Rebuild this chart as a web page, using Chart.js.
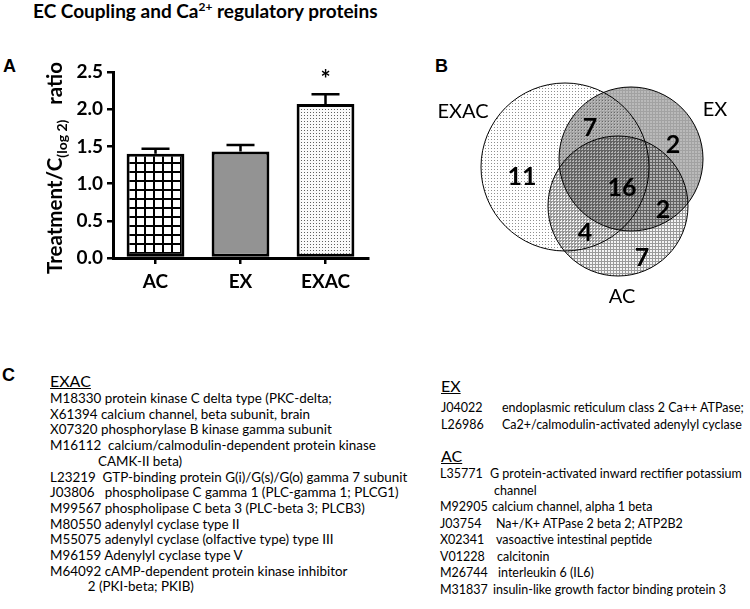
<!DOCTYPE html>
<html>
<head>
<meta charset="utf-8">
<script src="https://cdn.jsdelivr.net/npm/chart.js@4.4.0/dist/chart.umd.min.js"></script>
<style>
  body { margin: 0; background: #fff; }
  #page { position: relative; width: 750px; height: 609px; overflow: hidden; background: #fff; color: #000; font-family: Lato, 'Open Sans', sans-serif; }
  .abs { position: absolute; white-space: pre; }
  .panel { font-family: 'Liberation Sans', Arial, sans-serif; font-weight: bold; font-size: 18px; line-height: 18px; }
  #title { left: 33px; top: 0; font-weight: bold; font-size: 19px; line-height: 22px; }
  #title sup { font-size: 12px; vertical-align: 7px; line-height: 0; }
  .head { font-size: 16px; line-height: 18px; text-decoration: underline; text-underline-offset: 1px; }
  .left-line { font-size: 13.4px; line-height: 15.8px; }
  .right-line { font-size: 12.5px; line-height: 16px; }
  canvas { position: absolute; }
</style>
</head>
<body>
<div id="page">
  <div class="abs" id="title">EC Coupling and Ca<sup>2+</sup> regulatory proteins</div>
  <div class="abs panel" style="left:3px; top:57px">A</div>
  <div class="abs panel" style="left:435px; top:57px">B</div>
  <div class="abs panel" style="left:2px; top:366px">C</div>
  <canvas id="bar" width="380" height="310" style="left:0; top:0"></canvas>
  <canvas id="venn" width="380" height="250" style="left:370px; top:60px"></canvas>
  <div id="lists"></div>
</div>
<script>
// Panel A: treatment/control ratio (log2) per group
const groups = ['AC', 'EX', 'EXAC'];
const ratioMeans = [1.40, 1.43, 2.07];
const ratioErrors = [0.07, 0.09, 0.13];
const significant = [false, false, true];
const yTickValues = [0, 0.5, 1.0, 1.5, 2.0, 2.5];

// Panel B: Venn counts
const vennSets = ['EXAC', 'EX', 'AC'];
const vennRegions = ['EXAC only', 'EXAC+EX', 'EX only', 'all three', 'EX+AC', 'EXAC+AC', 'AC only'];
const vennCounts = [11, 7, 2, 16, 2, 4, 7];

// Panel C: gene lists
const exacGenes = [
  'M18330 protein kinase C delta type (PKC-delta;',
  'X61394 calcium channel, beta subunit, brain',
  'X07320 phosphorylase B kinase gamma subunit',
  'M16112  calcium/calmodulin-dependent protein kinase',
  '              CAMK-II beta)',
  'L23219  GTP-binding protein G(i)/G(s)/G(o) gamma 7 subunit',
  'J03806   phospholipase C gamma 1 (PLC-gamma 1; PLCG1)',
  'M99567 phospholipase C beta 3 (PLC-beta 3; PLCB3)',
  'M80550 adenylyl cyclase type II',
  'M55075 adenylyl cyclase (olfactive type) type III',
  'M96159 Adenylyl cyclase type V',
  'M64092 cAMP-dependent protein kinase inhibitor',
  '           2 (PKI-beta; PKIB)'
];
const exCodes = ['J04022', 'L26986'];
const exNames = ['endoplasmic reticulum class 2 Ca++ ATPase;', 'Ca2+/calmodulin-activated adenylyl cyclase'];
const acCodes = ['L35771', '', 'M92905', 'J03754', 'X02341', 'V01228', 'M26744', 'M31837'];
const acNames = [
  'G protein-activated inward rectifier potassium',
  'channel',
  'calcium channel, alpha 1 beta',
  'Na+/K+ ATPase 2 beta 2; ATP2B2',
  'vasoactive intestinal peptide',
  'calcitonin',
  'interleukin 6 (IL6)',
  'insulin-like growth factor binding protein 3'
];

// fill patterns
function makePattern(size, draw) {
  const c = document.createElement('canvas');
  c.width = size; c.height = size;
  const g = c.getContext('2d');
  draw(g, size);
  return g.createPattern(c, 'repeat');
}
const barGrid = makePattern(9, (g, s) => {
  g.fillStyle = '#fff'; g.fillRect(0, 0, s, s);
  g.fillStyle = '#000'; g.fillRect(0, 0, s, 2); g.fillRect(0, 0, 2, s);
});
const barDots = makePattern(3, (g, s) => {
  g.fillStyle = '#fafafa'; g.fillRect(0, 0, s, s);
  g.fillStyle = '#606060'; g.fillRect(1, 1, 1, 1);
});
const vennDots = makePattern(3, (g, s) => {
  g.fillStyle = '#fff'; g.fillRect(0, 0, s, s);
  g.fillStyle = '#8f8f8f'; g.fillRect(1, 1, 1, 1);
});
const vennGray = makePattern(3, (g, s) => {
  g.fillStyle = '#bababa'; g.fillRect(0, 0, s, s);
  g.fillStyle = '#a2a2a2'; g.fillRect(0, 0, s, 1); g.fillRect(0, 0, 1, s);
});
const vennHatch = makePattern(3, (g, s) => {
  g.fillStyle = '#f4f4f4'; g.fillRect(0, 0, s, s);
  g.fillStyle = '#9a9a9a'; g.fillRect(0, 0, s, 1); g.fillRect(0, 0, 1, s);
});

// error bars and significance star
const errorBars = {
  id: 'errorBars',
  afterDatasetsDraw(chart) {
    const { ctx } = chart;
    const y = chart.scales.y;
    chart.getDatasetMeta(0).data.forEach((bar, i) => {
      const top = y.getPixelForValue(ratioMeans[i] + ratioErrors[i]);
      ctx.save();
      ctx.strokeStyle = '#000';
      ctx.lineWidth = 2.5;
      ctx.beginPath();
      ctx.moveTo(bar.x, bar.y);
      ctx.lineTo(bar.x, top);
      ctx.moveTo(bar.x - 14, top);
      ctx.lineTo(bar.x + 14, top);
      ctx.stroke();
      if (significant[i]) {
        ctx.fillStyle = '#000';
        ctx.font = 'bold 24px Lato';
        ctx.textAlign = 'center';
        ctx.fillText('*', bar.x, top - 6);
      }
      ctx.restore();
    });
  }
};

// rotated y title with subscript
const yTitle = {
  id: 'yTitle',
  afterDraw(chart) {
    const { ctx } = chart;
    const parts = [
      ['Treatment/C', 'bold 20.5px Lato', 0],
      ['(log 2)', 'bold 14px Lato', 5],
      ['   ratio', 'bold 20.5px Lato', 0]
    ];
    ctx.save();
    let total = 0;
    parts.forEach(p => { ctx.font = p[1]; p.push(ctx.measureText(p[0]).width); total += p[3]; });
    ctx.translate(62, 168);
    ctx.rotate(-Math.PI / 2);
    ctx.fillStyle = '#000';
    ctx.textBaseline = 'alphabetic';
    let x = -total / 2;
    parts.forEach(p => {
      ctx.font = p[1];
      ctx.fillText(p[0], x, p[2]);
      x += p[3];
    });
    ctx.restore();
  }
};

const tickFont = { family: 'Lato', weight: 'bold', size: 19 };

new Chart(document.getElementById('bar').getContext('2d'), {
  type: 'bar',
  data: {
    labels: groups,
    datasets: [{
      data: ratioMeans,
      backgroundColor: [barGrid, '#939393', barDots],
      borderColor: '#000',
      borderWidth: 3,
      borderSkipped: false,
      barPercentage: 0.68,
      categoryPercentage: 1
    }]
  },
  options: {
    responsive: false,
    animation: false,
    layout: { padding: { top: 72, right: 12, left: 0, bottom: 0 } },
    plugins: { legend: { display: false }, tooltip: { enabled: false } },
    scales: {
      x: {
        grid: { offset: false, drawOnChartArea: false, color: '#000', lineWidth: 2.5, tickLength: 6 },
        border: { color: '#000', width: 3 },
        ticks: { color: '#000', font: tickFont, padding: 6 },
        afterFit: s => { s.height = 52; }
      },
      y: {
        min: 0,
        max: 2.5,
        afterBuildTicks: s => { s.ticks = yTickValues.map(v => ({ value: v })); },
        ticks: { color: '#000', font: tickFont, padding: 4, callback: v => v.toFixed(1) },
        grid: { drawOnChartArea: false, color: '#000', lineWidth: 2.5, tickLength: 6 },
        border: { color: '#000', width: 3 },
        afterFit: s => { s.width = 113; }
      }
    }
  },
  plugins: [errorBars, yTitle]
});

// Venn layout (pixel placement of circles and labels inside the panel)
const vennLayout = [
  { x: 195, y: 107, r: 84 },
  { x: 261, y: 99, r: 72 },
  { x: 248, y: 146, r: 70 }
];
const vennFills = [vennDots, vennGray, vennHatch];
const vennCountSpots = [[152, 117], [220, 68], [303, 85], [252, 128], [293, 150], [215, 173], [272, 198]];
const vennNameSpots = [[93, 52], [345, 50], [252, 237]];

const multiply = {
  id: 'multiply',
  beforeDatasetsDraw(chart) { chart.ctx.save(); chart.ctx.globalCompositeOperation = 'multiply'; },
  afterDatasetsDraw(chart) { chart.ctx.restore(); }
};
const vennText = {
  id: 'vennText',
  afterDraw(chart) {
    const { ctx } = chart;
    const xs = chart.scales.x, ys = chart.scales.y;
    ctx.save();
    ctx.fillStyle = '#000';
    ctx.textAlign = 'center';
    ctx.textBaseline = 'middle';
    ctx.font = 'bold 25px Lato';
    vennCounts.forEach((n, i) => {
      const [px, py] = vennCountSpots[i];
      ctx.fillText(String(n), xs.getPixelForValue(px), ys.getPixelForValue(py));
    });
    ctx.font = '20px Lato';
    vennSets.forEach((name, i) => {
      const [px, py] = vennNameSpots[i];
      ctx.fillText(name, xs.getPixelForValue(px), ys.getPixelForValue(py));
    });
    ctx.restore();
  }
};

new Chart(document.getElementById('venn').getContext('2d'), {
  type: 'bubble',
  data: {
    datasets: vennSets.map((name, i) => ({
      label: name,
      data: [vennLayout[i]],
      backgroundColor: vennFills[i],
      borderColor: '#000',
      borderWidth: 1,
      hoverBorderWidth: 1,
      clip: false
    }))
  },
  options: {
    responsive: false,
    animation: false,
    layout: { padding: 0, autoPadding: false },
    events: [],
    plugins: { legend: { display: false }, tooltip: { enabled: false } },
    scales: {
      x: { display: false, min: 0, max: 380 },
      y: { display: false, min: 0, max: 250, reverse: true }
    }
  },
  plugins: [multiply, vennText]
});

// gene lists
const lists = document.getElementById('lists');
function addText(cls, text, left, top) {
  const d = document.createElement('div');
  d.className = 'abs ' + cls;
  d.textContent = text;
  d.style.left = left + 'px';
  d.style.top = top + 'px';
  lists.appendChild(d);
}
addText('head', 'EXAC', 50, 372);
exacGenes.forEach((line, i) => addText('left-line', line, 50, 391 + i * 15.7));

addText('head', 'EX', 441, 377);
const exDescX = [502, 502];
exCodes.forEach((c, i) => {
  addText('right-line', c, 441, 400 + i * 17);
  addText('right-line', exNames[i], exDescX[i], 400 + i * 17);
});
addText('head', 'AC', 441, 447);
const acDescX = [490, 494, 492, 496, 496, 497, 498, 493];
acCodes.forEach((c, i) => {
  addText('right-line', c, 440, 466 + i * 16.5);
  addText('right-line', acNames[i], acDescX[i], 466 + i * 16.5);
});
</script>
</body>
</html>
